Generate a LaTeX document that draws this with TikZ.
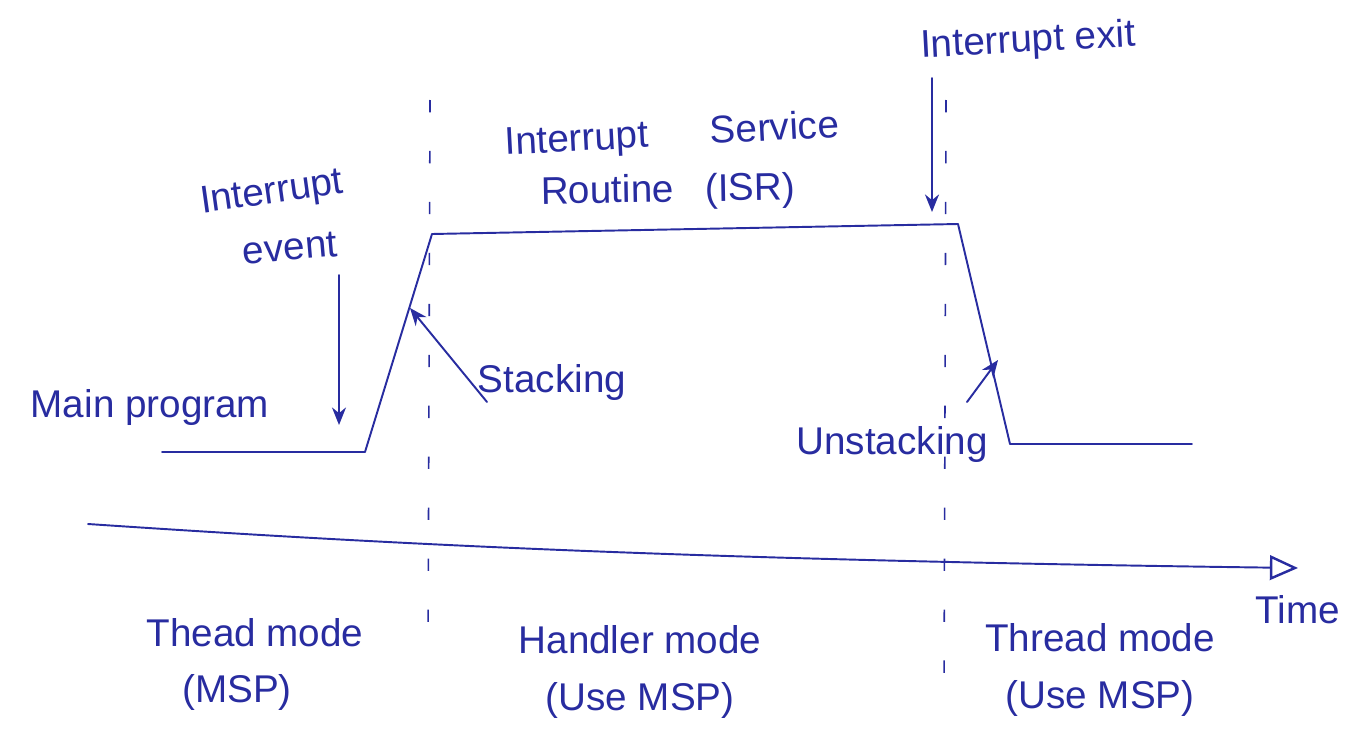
\documentclass[tikz,border=0pt]{standalone}
\usepackage{fontspec}
\setmainfont{Liberation Sans}
\usetikzlibrary{arrows.meta}
\definecolor{ink}{RGB}{40,44,160}
\tikzset{
  ink/.style={draw=ink, line width=1.1pt, line cap=round, line join=round},
  lbl/.style={text=ink, font=\fontsize{22}{24}\selectfont, inner sep=0pt},
  guide/.style={draw=ink, line width=0.9pt, dash pattern=on 7pt off 22pt},
  arr/.style={ink, -{Stealth[length=10pt,width=8pt]}},
}
\begin{document}
\begin{tikzpicture}[x=0.02cm, y=-0.02cm]
\useasboundingbox (0,0) rectangle (1352,730);
% waveform points
\coordinate (w0) at (162,452);
\coordinate (w1) at (365,452);
\coordinate (w2) at (432,234);
\coordinate (w3) at (958,224);
\coordinate (w4) at (1010,444);
\coordinate (w5) at (1192,444);
\draw[ink] (w0) -- (w1) -- (w2) -- (w3) -- (w4) -- (w5);
% mode boundaries
\coordinate (g1a) at (430,100); \coordinate (g1b) at (428,660);
\coordinate (g2a) at (946,100); \coordinate (g2b) at (944,695);
\draw[guide] (g1a) -- (g1b);
\draw[guide] (g2a) -- (g2b);
% time axis
\coordinate (t0) at (88,524);
\coordinate (t1) at (1298,568);
\draw[ink, -{Triangle[open, length=16pt, width=14pt, line width=1.4pt]}] (t0) .. controls (400,545) and (700,560) .. (t1);
% texts
\node[lbl, rotate=8] (ie1) at (272,194) {Interrupt};
\node[lbl, rotate=5] (ie2) at (290,248) {event};
\node[lbl] (main) at (150,408) {Main program};
\node[lbl, rotate=3] (isr1) at (672,136) {Interrupt\hspace{1.6em}Service};
\node[lbl, rotate=1] (isr2) at (668,192) {Routine\hspace{0.8em}(ISR)};
\node[lbl, rotate=3] (iex) at (1028,42) {Interrupt exit};
\node[lbl] (stk) at (552,383) {Stacking};
\node[lbl] (ustk) at (892,444) {Unstacking};
\node[lbl] (m1) at (255,633) {Thead mode};
\node[lbl] (m1b) at (237,692) {(MSP)};
\node[lbl] (m2) at (640,640) {Handler mode};
\node[lbl] (m2b) at (640,700) {(Use MSP)};
\node[lbl] (m3) at (1100,638) {Thread mode};
\node[lbl] (m3b) at (1100,698) {(Use MSP)};
\node[lbl] (time) at (1298,610) {Time};
% arrows
\coordinate (ieA) at (339,275); \coordinate (ieB) at (339,425);
\draw[arr] (ieA) -- (ieB);
\coordinate (exA) at (932,78); \coordinate (exB) at (932,212);
\draw[arr] (exA) -- (exB);
\coordinate (stA) at (487,402); \coordinate (stB) at (410,308);
\draw[arr] (stA) -- (stB);
\coordinate (usA) at (967,402); \coordinate (usB) at (998,360);
\draw[arr] (usA) -- (usB);
\end{tikzpicture}
\end{document}
